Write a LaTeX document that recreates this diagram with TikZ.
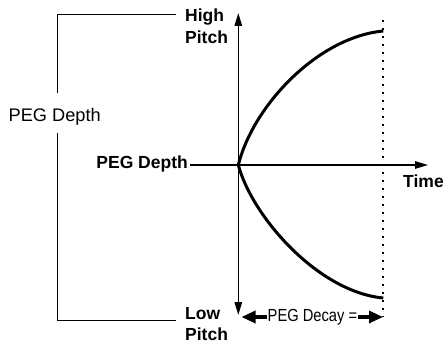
\documentclass[tikz,border=0pt]{standalone}
\usepackage{fontspec}
\setmainfont{Liberation Sans}
\newfontfamily\narrowfont[FakeStretch=0.84]{Liberation Sans}
\usetikzlibrary{arrows.meta}
\begin{document}
\begin{tikzpicture}[x=1pt,y=1pt,
  lbl/.style={font=\fontsize{18.2}{20.5}\selectfont, inner sep=0pt},
  boldlbl/.style={font=\fontsize{17.5}{20.3}\selectfont\bfseries, inner sep=0pt, align=left},
  axisline/.style={line width=1.3pt, -{Triangle[length=13pt,width=7.5pt]}},
  curveline/.style={line width=3pt},
  bracketline/.style={line width=0.9pt},
  dotline/.style={line width=2pt, dash pattern=on 2.2pt off 5.8pt},
  decayarrow/.style={line width=3.2pt, -{Triangle[length=14pt,width=12pt]}}
]
\useasboundingbox (0,0) rectangle (446,343);

% reference points
\coordinate (origin) at (238.3,178);
\coordinate (vtop) at (238.3,330);
\coordinate (vbot) at (238.3,28);
\coordinate (htip) at (428,178);
\coordinate (dtop) at (383,323);
\coordinate (dbot) at (383,26);
\coordinate (upend) at (383.3,312);
\coordinate (lowend) at (383.3,45);

% labels
\node[lbl, anchor=base west] (depthleft) at (8.5,222) {PEG Depth};
\node[boldlbl, anchor=base east, inner sep=2pt] (depthbold) at (190,175) {PEG Depth};
\node[boldlbl, anchor=north west, font=\fontsize{17.5}{21.4}\selectfont\bfseries] (high) at (185,334) {High\\Pitch};
\node[boldlbl, anchor=north west] (low) at (185,35.3) {Low\\Pitch};
\node[boldlbl, anchor=base west] (time) at (403,156) {Time};
\node[font=\fontsize{17.5}{20}\selectfont\narrowfont, inner sep=1pt, anchor=base west] (decay) at (266.5,21.5) {PEG Decay =};

% bracket
\coordinate (b1) at (176,329);
\coordinate (b2) at (57.5,329);
\coordinate (b3) at (57.5,250);
\coordinate (b4) at (57.5,210);
\coordinate (b5) at (57.5,23);
\coordinate (b6) at (176,23);
\draw[bracketline] (b1) -- (b2) -- (b3);
\draw[bracketline] (b4) -- (b5) -- (b6);

% axes
\draw[axisline] (origin) -- (vtop);
\draw[axisline] (origin) -- (vbot);
\draw[axisline] (depthbold.east |- origin) -- (htip);

% dotted time limit
\draw[dotline] (dtop) -- (dbot);

% curves
\draw[curveline] (origin) .. controls ++(15,60) and ++(-65,-6) .. (upend);
\draw[curveline] (origin) .. controls ++(14,-52) and ++(-65,6) .. (lowend);

% decay arrows
\coordinate (ltip) at (241.5,26);
\coordinate (rtip) at (383,26);
\draw[decayarrow] (decay.west |- ltip) -- (ltip);
\draw[decayarrow] (decay.east |- rtip) -- (rtip);
\end{tikzpicture}
\end{document}
